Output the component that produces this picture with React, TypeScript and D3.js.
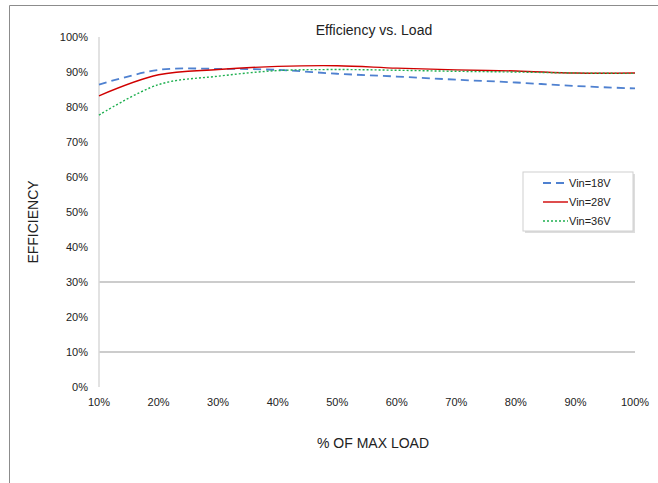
import React from "react";
import * as d3 from "d3";

const loads = [10, 20, 30, 40, 50, 60, 70, 80, 90, 100];
const vin18 = [86.4, 90.6, 90.9, 90.6, 89.5, 88.7, 87.8, 87.0, 86.0, 85.3];
const vin28 = [83.2, 89.2, 90.7, 91.6, 91.8, 91.1, 90.6, 90.3, 89.7, 89.7];
const vin36 = [77.7, 86.4, 88.8, 90.4, 90.7, 90.5, 90.2, 90.0, 89.7, 89.6];
const yTicks = [0, 10, 20, 30, 40, 50, 60, 70, 80, 90, 100];
const gridTicks = [10, 30];
const seriesNames = ["Vin=18V", "Vin=28V", "Vin=36V"];
const title = "Efficiency vs. Load";
const xTitle = "% OF MAX LOAD";
const yTitle = "EFFICIENCY";

export default function App() {
  const W = 658, H = 483;
  const x = d3.scaleLinear().domain([10, 100]).range([99, 635]);
  const y = d3.scaleLinear().domain([0, 100]).range([387, 37]);
  const line = d3
    .line<number>()
    .x((_, i) => x(loads[i]))
    .y((d) => y(d))
    .curve(d3.curveCatmullRom.alpha(0.5));

  const styles = [
    { stroke: "#4f81d0", width: 1.8, dash: "8,5" },
    { stroke: "#d00000", width: 1.4, dash: "" },
    { stroke: "#1fb050", width: 1.4, dash: "2,2" },
  ];
  const data = [vin18, vin28, vin36];
  const font = "Liberation Sans, Arial, sans-serif";

  return (
    <svg
      width={W}
      height={H}
      style={{ position: "absolute", left: 0, top: 0, background: "#fff" }}
      fontFamily={font}
    >
      <rect x={0} y={0} width={W} height={H} fill="#fff" />
      <path d={`M9.5,${H} V5.5 H${W}`} fill="none" stroke="#8c8c8c" strokeWidth={1} />
      <text x={374} y={35} textAnchor="middle" fontSize={14} fill="#222">
        {title}
      </text>
      {gridTicks.map((t) => (
        <line key={t} x1={x(10)} x2={x(100)} y1={y(t)} y2={y(t)} stroke="#9a9a9a" strokeWidth={1.2} />
      ))}
      <line x1={x(10)} x2={x(10)} y1={y(100)} y2={y(0)} stroke="#d9d9d9" strokeWidth={1.5} />
      {yTicks.map((t) => (
        <text key={t} x={88} y={y(t) + 4} textAnchor="end" fontSize={11} fill="#222">
          {t}%
        </text>
      ))}
      {loads.map((l) => (
        <text key={l} x={x(l)} y={406} textAnchor="middle" fontSize={11} fill="#222">
          {l}%
        </text>
      ))}
      <text x={373} y={448} textAnchor="middle" fontSize={14} fill="#222">
        {xTitle}
      </text>
      <text
        transform={`translate(38,222) rotate(-90)`}
        textAnchor="middle"
        fontSize={14}
        fill="#222"
      >
        {yTitle}
      </text>
      {data.map((d, i) => (
        <path
          key={i}
          d={line(d) || ""}
          fill="none"
          stroke={styles[i].stroke}
          strokeWidth={styles[i].width}
          strokeDasharray={styles[i].dash}
        />
      ))}
      <rect x={525} y={174} width={110} height={59} fill="#bbb" opacity={0.5} />
      <rect x={523} y={172} width={110} height={59} fill="#fff" stroke="#d0d0d0" strokeWidth={1} />
      {seriesNames.map((n, i) => {
        const ly = 183 + i * 19;
        return (
          <g key={n}>
            <line
              x1={543}
              x2={568}
              y1={ly}
              y2={ly}
              stroke={styles[i].stroke}
              strokeWidth={styles[i].width}
              strokeDasharray={styles[i].dash}
            />
            <text x={569} y={ly + 4} fontSize={11} fill="#222">
              {n}
            </text>
          </g>
        );
      })}
    </svg>
  );
}
